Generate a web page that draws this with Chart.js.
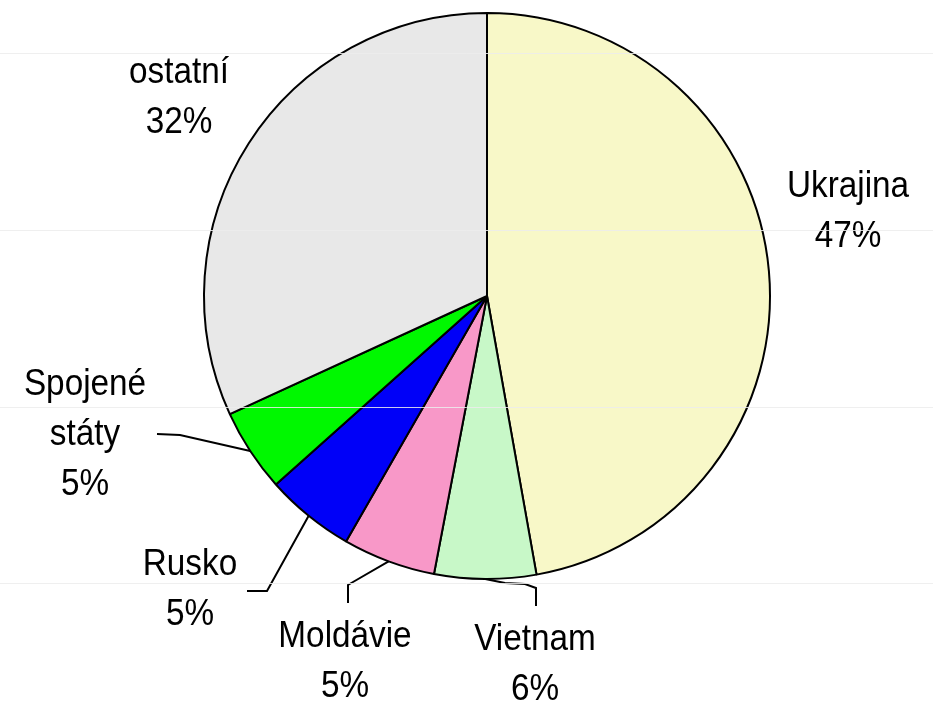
<!DOCTYPE html>
<html>
<head>
<meta charset="utf-8">
<script src="https://cdn.jsdelivr.net/npm/chart.js@4/dist/chart.umd.min.js"></script>
<style>
  html, body { margin: 0; padding: 0; background: #ffffff; }
  #wrap { width: 933px; height: 701px; }
</style>
</head>
<body>
<div id="wrap"><canvas id="c" width="933" height="701"></canvas></div>
<script>
// ---- data ----
const categories = ["Ukrajina", "Vietnam", "Moldávie", "Rusko", "Spojené státy", "ostatní"];
const labelLines = [["Ukrajina"], ["Vietnam"], ["Moldávie"], ["Rusko"], ["Spojené", "státy"], ["ostatní"]];
const values = [47.2, 5.8, 5.3, 5.1, 4.75, 31.85];
const percentLabels = ["47%", "6%", "5%", "5%", "5%", "32%"];
const sliceColors = ["#f8f8c8", "#c8f8c8", "#f898c8", "#0000f8", "#00f800", "#e8e8e8"];

// label placement relative to pie centre (pixels): first-line baseline
const labelPos = [
  { dx: 361, dy: -99, leader: null },
  { dx: 48, dy: 354, leader: [[18, 287], [38, 288], [49, 292], [49, 310]] },
  { dx: -142, dy: 351, leader: [[-134, 286], [-139, 289], [-139, 307]] },
  { dx: -297, dy: 279, leader: [[-220, 295], [-240, 295]] },
  { dx: -402, dy: 99, leader: [[-307, 139], [-330, 138]] },
  { dx: -308, dy: -213, leader: null }
];

const decoLines = [53, 230, 407, 583];

const labelPlugin = {
  id: 'labels',
  afterDatasetsDraw(chart) {
    const ctx = chart.ctx;
    const meta = chart.getDatasetMeta(0);
    const arc0 = meta.data[0];
    const cx = arc0.x, cy = arc0.y;
    ctx.save();
    // leader lines
    ctx.strokeStyle = '#000';
    ctx.lineWidth = 2;
    meta.data.forEach((arc, i) => {
      const p = labelPos[i];
      if (!p.leader) return;
      const mid = (arc.startAngle + arc.endAngle) / 2;
      const r = arc.outerRadius;
      ctx.beginPath();
      ctx.moveTo(cx + Math.cos(mid) * r, cy + Math.sin(mid) * r);
      p.leader.forEach(pt => ctx.lineTo(cx + pt[0], cy + pt[1]));
      ctx.stroke();
    });
    // texts
    ctx.fillStyle = '#000';
    ctx.textAlign = 'center';
    ctx.textBaseline = 'alphabetic';
    ctx.font = '37px "Liberation Sans", Arial, sans-serif';
    const lh = 50;
    meta.data.forEach((arc, i) => {
      const p = labelPos[i];
      const lines = labelLines[i].concat([percentLabels[i]]);
      lines.forEach((t, k) => {
        ctx.save();
        ctx.translate(cx + p.dx, cy + p.dy + k * lh);
        ctx.scale(0.9, 1);
        ctx.fillText(t, 0, 0);
        ctx.restore();
      });
    });
    ctx.restore();
  },
  afterDraw(chart) {
    const ctx = chart.ctx;
    ctx.save();
    ctx.strokeStyle = 'rgba(236,236,236,0.85)';
    ctx.lineWidth = 1;
    decoLines.forEach(y => {
      ctx.beginPath();
      ctx.moveTo(0, y + 0.5);
      ctx.lineTo(chart.width, y + 0.5);
      ctx.stroke();
    });
    ctx.restore();
  }
};

const bgPlugin = {
  id: 'bg',
  beforeDraw(chart) {
    const ctx = chart.ctx;
    ctx.save();
    ctx.fillStyle = '#ffffff';
    ctx.fillRect(0, 0, chart.width, chart.height);
    ctx.restore();
  }
};

new Chart(document.getElementById('c'), {
  type: 'pie',
  data: {
    labels: categories,
    datasets: [{
      data: values,
      backgroundColor: sliceColors,
      borderColor: '#000000',
      borderWidth: 2,
      hoverOffset: 0
    }]
  },
  options: {
    responsive: false,
    animation: false,
    devicePixelRatio: 1,
    layout: { padding: { top: 12, bottom: 121, left: 203, right: 162 } },
    plugins: {
      legend: { display: false },
      tooltip: { enabled: false }
    }
  },
  plugins: [bgPlugin, labelPlugin]
});
</script>
</body>
</html>
